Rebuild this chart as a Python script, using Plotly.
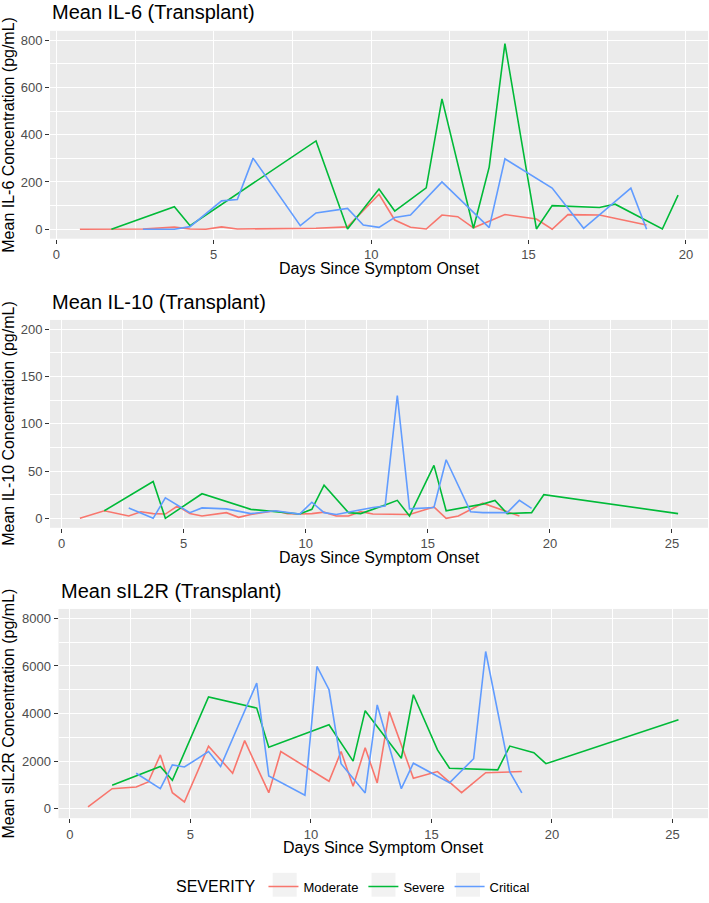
import plotly.graph_objects as go

# ---------------- data ----------------
severity = ["Moderate", "Severe", "Critical"]
colors = ["#F8766D", "#00BA38", "#619CFF"]

# IL-6
il6_mod_x = [0.75, 1.75, 2.75, 3.75, 4.25, 4.75, 5.25, 5.75, 6.75, 7.75, 8.25, 9.25, 10.25, 10.75, 11.25, 11.75, 12.25, 12.75, 13.25, 14.25, 15.25, 15.75, 16.25, 17.25, 18.75]
il6_mod_y = [0, 0, 1, 9, 1, 0, 10, 1, 2, 2, 4, 10, 148, 39, 8, 1, 60, 53, 6, 62, 43, 0, 62, 60, 18]
il6_sev_x = [1.75, 3.75, 4.25, 8.25, 9.25, 10.25, 10.75, 11.75, 12.25, 13.25, 13.75, 14.25, 15.25, 15.75, 17.25, 17.75, 19.25, 19.75]
il6_sev_y = [0, 95, 15, 374, 1, 170, 77, 175, 552, 4, 263, 786, 1, 100, 92, 106, 1, 144]
il6_cri_x = [2.75, 3.75, 4.25, 5.25, 5.75, 6.25, 7.75, 8.25, 9.25, 9.75, 10.25, 10.75, 11.25, 12.25, 13.75, 14.25, 15.75, 16.75, 18.25, 18.75]
il6_cri_y = [0, 0, 11, 120, 126, 301, 15, 69, 88, 18, 8, 50, 60, 200, 7, 298, 174, 4, 174, 0]

# IL-10
il10_mod_x = [0.75, 1.75, 2.75, 3.25, 3.75, 4.25, 4.75, 5.25, 5.75, 6.75, 7.25, 7.75, 8.75, 9.25, 9.75, 10.25, 10.75, 11.25, 11.75, 12.25, 12.75, 13.25, 14.25, 15.25, 15.75, 16.25, 17.25, 18.75]
il10_mod_y = [0, 8, 2.5, 7, 5, 4.5, 13, 5, 2.5, 6, 1, 4, 8, 5, 4.5, 5, 6.5, 2.5, 2.5, 7, 4.5, 4.5, 4, 12, 0, 2.5, 16, 2.5]
il10_sev_x = [1.75, 3.75, 4.25, 5.75, 7.75, 8.75, 9.75, 10.25, 10.75, 11.75, 12.25, 13.25, 13.75, 14.25, 15.25, 15.75, 17.25, 17.75, 18.25, 19.25, 19.75, 25.25]
il10_sev_y = [8, 39, 0, 26, 9.5, 7, 4.5, 9.5, 35, 6, 5, 14, 19, 2.5, 56, 8, 15, 19, 5, 6, 25, 5]
il10_cri_x = [2.75, 3.75, 4.25, 5.25, 5.75, 6.75, 7.75, 8.75, 9.75, 10.25, 10.75, 11.25, 12.75, 13.25, 13.75, 14.25, 15.25, 15.75, 16.75, 17.25, 18.25, 18.75, 19.25]
il10_cri_y = [11, 0, 21.7, 6, 11, 10, 5, 8, 4.5, 17, 6, 4, 11.5, 13, 130, 10, 11.5, 62, 7, 6, 6, 19, 10.5]

# sIL2R
sil_mod_x = [0.75, 1.75, 2.75, 3.25, 3.75, 4.25, 4.75, 5.75, 6.75, 7.25, 8.25, 8.75, 10.75, 11.25, 11.75, 12.25, 12.75, 13.25, 14.25, 15.25, 16.25, 17.25, 18.75]
sil_mod_y = [70, 840, 910, 1120, 2260, 670, 280, 2630, 1490, 2860, 670, 2400, 1150, 2400, 940, 2560, 1080, 4080, 1280, 1560, 670, 1510, 1560]
sil_sev_x = [1.75, 3.75, 4.25, 5.75, 7.75, 8.25, 10.75, 11.75, 12.25, 13.75, 14.25, 15.25, 15.75, 17.75, 18.25, 19.25, 19.75, 25.25]
sil_sev_y = [980, 1770, 1190, 4700, 4230, 2580, 3530, 2000, 4120, 2120, 4790, 2470, 1700, 1630, 2630, 2350, 1890, 3740]
sil_cri_x = [2.75, 3.75, 4.25, 4.75, 5.75, 6.25, 7.75, 8.25, 9.75, 10.25, 10.75, 11.25, 12.25, 12.75, 13.75, 14.25, 15.75, 16.75, 17.25, 18.25, 18.75]
sil_cri_y = [1490, 840, 1840, 1750, 2400, 1770, 5280, 1370, 560, 5980, 5000, 1890, 660, 4360, 840, 1910, 1090, 2100, 6610, 1540, 660]

panel_titles = ["Mean IL-6 (Transplant)", "Mean IL-10 (Transplant)", "Mean sIL2R (Transplant)"]
y_titles = ["Mean IL-6 Concentration (pg/mL)", "Mean IL-10 Concentration (pg/mL)", "Mean sIL2R Concentration (pg/mL)"]
x_title = "Days Since Symptom Onset"

panels = [
    [(il6_mod_x, il6_mod_y), (il6_sev_x, il6_sev_y), (il6_cri_x, il6_cri_y)],
    [(il10_mod_x, il10_mod_y), (il10_sev_x, il10_sev_y), (il10_cri_x, il10_cri_y)],
    [(sil_mod_x, sil_mod_y), (sil_sev_x, sil_sev_y), (sil_cri_x, sil_cri_y)],
]

# ---------------- layout geometry ----------------
W, H = 709, 903
FONT = "Liberation Sans, Arial, Helvetica, sans-serif"

def px_x(v):
    return v / W

def px_y(v):
    return 1 - v / H

x_domains = [[px_x(50), px_x(708)], [px_x(50), px_x(708)], [px_x(58.5), px_x(708)]]
y_domains = [[px_y(240), px_y(31)], [px_y(530.7), px_y(321.7)], [px_y(822.7), px_y(612.3)]]
x_ranges = [[-0.2, 20.7], [-0.475, 26.475], [-0.475, 26.475]]
y_ranges = [[-40, 840], [-10, 210], [-400, 8400]]
y_dticks = [200, 50, 2000]

fig = go.Figure()

for p, series in enumerate(panels):
    sfx = "" if p == 0 else str(p + 1)
    for s, (xs, ys) in enumerate(series):
        fig.add_trace(go.Scatter(
            x=xs, y=ys, mode="lines", name=severity[s],
            line=dict(color=colors[s], width=1.6),
            legendgroup=severity[s], showlegend=(p == 0),
            xaxis="x" + sfx, yaxis="y" + sfx,
        ))

layout = dict(
    width=W, height=H,
    margin=dict(l=0, r=0, t=0, b=0, pad=0),
    paper_bgcolor="white",
    plot_bgcolor="#EBEBEB",
    font=dict(family=FONT, color="black"),
    showlegend=True,
    legend=dict(
        orientation="h", x=0.5, xanchor="center", y=px_y(892), yanchor="middle",
        title=dict(text="SEVERITY", font=dict(size=16, color="black"), side="left"),
        font=dict(size=13, color="black"),
        bgcolor="rgba(0,0,0,0)", itemwidth=30, tracegroupgap=0,
    ),
)

# grey legend-key backgrounds (ggplot legend.key style)
key_centers = [284.7, 383.5, 468.0]
shapes = []
for c in key_centers:
    shapes.append(dict(
        type="rect", xref="paper", yref="paper", layer="below",
        x0=px_x(c - 12), x1=px_x(c + 12), y0=px_y(901.7), y1=px_y(877.7),
        fillcolor="#F2F2F2", line=dict(width=0),
    ))

annotations = []
title_y = [12, 303.7, 594.5]
title_x = [50, 50, 59]
xt_y = [270, 561, 852]
for p in range(3):
    sfx = "" if p == 0 else str(p + 1)
    layout["xaxis" + sfx] = dict(
        domain=x_domains[p], anchor="y" + sfx, range=x_ranges[p],
        dtick=5, tick0=0, showgrid=True, gridcolor="white", gridwidth=1.4,
        zeroline=False, ticks="outside", ticklen=4, tickcolor="#333333", tickwidth=1,
        tickfont=dict(size=13, color="#4D4D4D", family=FONT),
        minor=dict(dtick=2.5, tick0=0, showgrid=True, gridcolor="white", gridwidth=0.7, ticks=""),
        showline=False, fixedrange=True, automargin=False,
    )
    layout["yaxis" + sfx] = dict(
        domain=y_domains[p], anchor="x" + sfx, range=y_ranges[p],
        dtick=y_dticks[p], tick0=0, showgrid=True, gridcolor="white", gridwidth=1.4,
        zeroline=False, ticks="outside", ticklen=4, tickcolor="#333333", tickwidth=1,
        tickfont=dict(size=13, color="#4D4D4D", family=FONT),
        minor=dict(dtick=y_dticks[p] / 2, tick0=0, showgrid=True, gridcolor="white", gridwidth=0.7, ticks=""),
        showline=False, fixedrange=True, automargin=False,
    )
    annotations.append(dict(
        text=panel_titles[p], xref="paper", yref="paper",
        x=px_x(title_x[p]), y=px_y(title_y[p]), xanchor="left", yanchor="middle",
        showarrow=False, font=dict(size=20, color="black", family=FONT),
    ))
    annotations.append(dict(
        text=x_title, xref="paper", yref="paper",
        x=(x_domains[p][0] + x_domains[p][1]) / 2, y=px_y(xt_y[p]),
        xanchor="center", yanchor="middle",
        showarrow=False, font=dict(size=16, color="black", family=FONT),
    ))
    annotations.append(dict(
        text=y_titles[p], xref="paper", yref="paper",
        x=px_x(9), y=(y_domains[p][0] + y_domains[p][1]) / 2,
        xanchor="center", yanchor="middle", textangle=-90,
        showarrow=False, font=dict(size=16, color="black", family=FONT),
    ))

layout["annotations"] = annotations
layout["shapes"] = shapes
fig.update_layout(**layout)

fig.write_html(
    "out.html",
    config={"displayModeBar": False},
    post_script="document.body.style.margin='0';document.body.style.overflow='hidden';",
)
